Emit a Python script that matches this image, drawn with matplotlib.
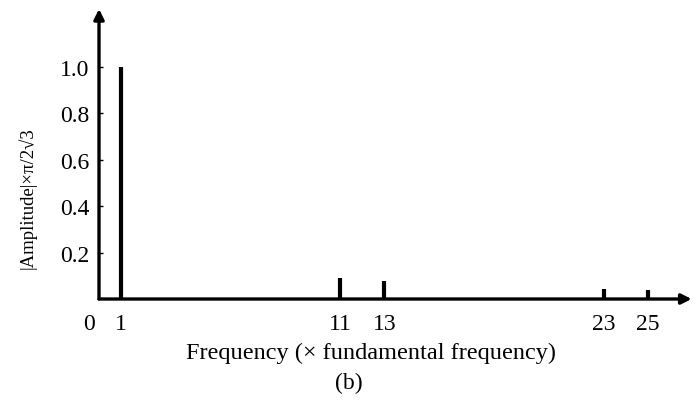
import matplotlib
matplotlib.use("Agg")
import matplotlib.pyplot as plt

harmonics = [1, 11, 13, 23, 25]
amplitudes = [1.0, 0.091, 0.077, 0.043, 0.040]
xtick_vals = [0, 1, 11, 13, 23, 25]
xtick_labels = ["0", "1", "11", "13", "23", "25"]
ytick_vals = [0.2, 0.4, 0.6, 0.8, 1.0]
ytick_labels = ["0.2", "0.4", "0.6", "0.8", "1.0"]

plt.rcParams['font.family'] = ['Liberation Serif', 'DejaVu Serif']

fig = plt.figure(figsize=(6.99, 4.02), dpi=100)
W, H = 699, 402
x0px, y0px = 99, 300
xmax, ymax = 27.0, 1.25
ux = 21.95
uy = 232.0
ax = fig.add_axes([x0px / W, (H - y0px) / H, xmax * ux / W, ymax * uy / H])
ax.set_xlim(0, xmax)
ax.set_ylim(0, ymax)
for s in ax.spines.values():
    s.set_visible(False)

ax.vlines(harmonics, 0, amplitudes, colors="black", linewidth=3.0)

# axes with arrows
ax.annotate("", xy=(1.0, 0), xytext=(0, 0), xycoords="axes fraction",
            arrowprops=dict(arrowstyle="-|>", color="black", lw=2.4,
                            mutation_scale=15, shrinkA=0, shrinkB=0))
ax.annotate("", xy=(0, 1.0), xytext=(0, 0), xycoords="axes fraction",
            arrowprops=dict(arrowstyle="-|>", color="black", lw=2.4,
                            mutation_scale=15, shrinkA=0, shrinkB=0))

ax.set_xticks(xtick_vals)
ax.set_xticklabels(xtick_labels, fontsize=17)
ax.tick_params(axis="x", length=0, pad=10)
# the "0" label sits slightly left of the origin
lbl0 = ax.get_xticklabels()[0]
import matplotlib.transforms as mtransforms
lbl0.set_transform(lbl0.get_transform() + mtransforms.ScaledTranslation(-10 / 100, 0, fig.dpi_scale_trans))
ax.set_yticks(ytick_vals)
ax.set_yticklabels(ytick_labels, fontsize=17)
ax.tick_params(axis="y", length=3, width=1, direction="in", pad=7)

fig.text(371 / W, 1 - 353 / H, "Frequency (\u00d7 fundamental frequency)",
         ha="center", va="center", fontsize=17.5)
fig.text(349 / W, 1 - 383 / H, "(b)", ha="center", va="center", fontsize=17)
fig.text(27 / W, 1 - 198 / H, "|Amplitude|\u00d7\u03c0/2\u221a3", rotation=90,
         ha="center", va="center", fontsize=13.5)

fig.savefig("out.png", dpi=100)
